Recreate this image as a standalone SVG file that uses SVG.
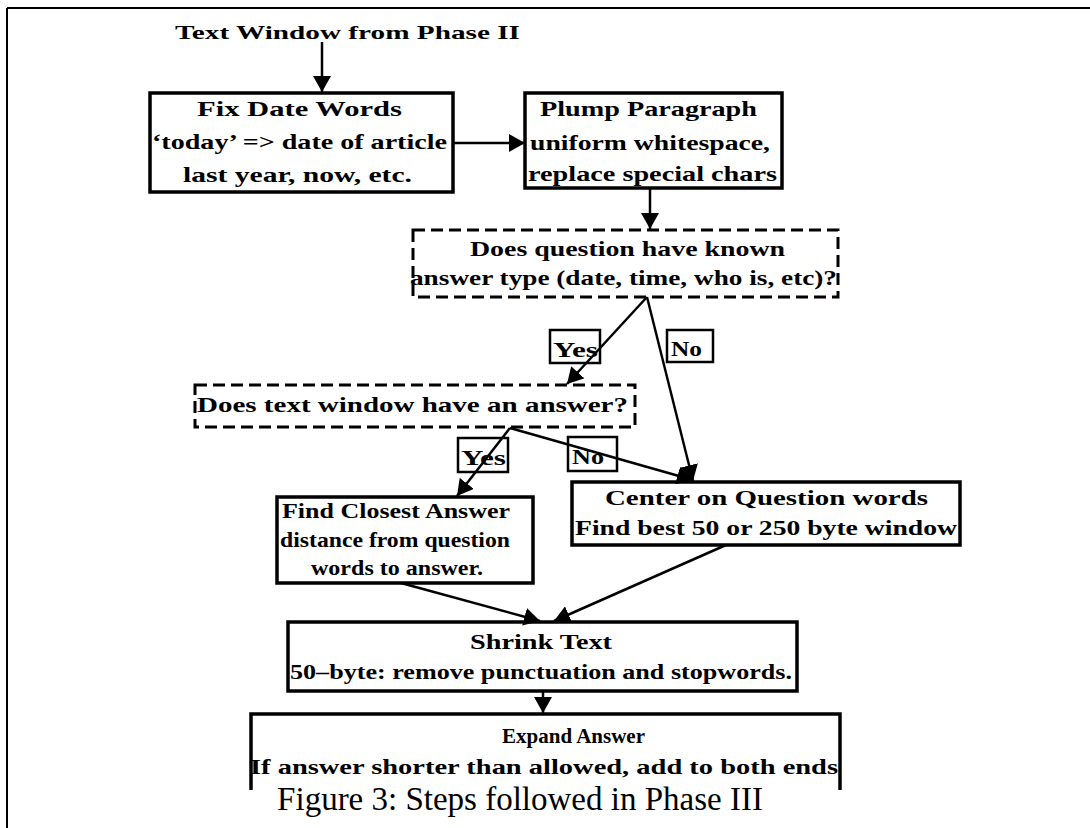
<svg xmlns="http://www.w3.org/2000/svg" width="1090" height="828" viewBox="0 0 1090 828">
<style>
.t{font-family:"Liberation Serif","Times New Roman",serif;font-weight:bold;font-size:22px;fill:#000}
.tt{font-family:"Liberation Serif","Times New Roman",serif;font-weight:bold;font-size:19px;fill:#000}
.box{fill:#fff;stroke:#000;stroke-width:3.5}
.dbox{fill:#fff;stroke:#000;stroke-width:3;stroke-dasharray:12 6}
.lbl{fill:#fff;stroke:#000;stroke-width:2.5}
.c{stroke:#000;stroke-width:2.5;fill:none}
.cap{font-family:"Liberation Serif","Times New Roman",serif;font-size:33px;fill:#000}
</style>
<defs>
<marker id="ah" markerUnits="userSpaceOnUse" markerWidth="18" markerHeight="18" refX="16" refY="9" orient="auto">
<path d="M0,0 L16,9 L0,18 Z" fill="#000"/>
</marker>
</defs>
<rect width="1090" height="828" fill="#fff"/>
<g id="frame">
<line x1="7" y1="8" x2="1090" y2="8" stroke="#000" stroke-width="2"/>
<line x1="7" y1="8" x2="7" y2="828" stroke="#000" stroke-width="2"/>
</g>
<g id="title"><text class="tt" x="175" y="39" textLength="345" lengthAdjust="spacingAndGlyphs">Text Window from Phase II</text></g>
<g id="fix">
<rect class="box" x="150" y="93" width="303" height="99"/>
<text class="t" x="197" y="116" textLength="205" lengthAdjust="spacingAndGlyphs">Fix Date Words</text>
<text class="t" x="152" y="149" textLength="295" lengthAdjust="spacingAndGlyphs">‘today’ =&gt; date of article</text>
<text class="t" x="183" y="182" textLength="229" lengthAdjust="spacingAndGlyphs">last year, now, etc.</text>
</g>
<g id="plump">
<rect class="box" x="525" y="93" width="257" height="95"/>
<text class="t" x="540" y="116" textLength="217" lengthAdjust="spacingAndGlyphs">Plump Paragraph</text>
<text class="t" x="530" y="150" textLength="240" lengthAdjust="spacingAndGlyphs">uniform whitespace,</text>
<text class="t" x="528" y="181" textLength="249" lengthAdjust="spacingAndGlyphs">replace special chars</text>
</g>
<g id="known">
<rect class="dbox" x="413" y="230" width="425" height="67"/>
<text class="t" x="470" y="256" textLength="315" lengthAdjust="spacingAndGlyphs">Does question have  known</text>
<text class="t" x="410" y="285" textLength="427" lengthAdjust="spacingAndGlyphs">answer type (date, time, who is, etc)?</text>
</g>
<g id="hasanswer">
<rect class="dbox" x="195" y="385" width="440" height="42"/>
<text class="t" x="197" y="412" textLength="431" lengthAdjust="spacingAndGlyphs">Does text window have an answer?</text>
</g>
<g id="closest">
<rect class="box" x="277" y="497" width="256" height="86"/>
<text class="t" x="282" y="518" textLength="228" lengthAdjust="spacingAndGlyphs">Find Closest Answer</text>
<text class="t" x="280" y="547" textLength="230" lengthAdjust="spacingAndGlyphs">distance from question</text>
<text class="t" x="311" y="575" textLength="172" lengthAdjust="spacingAndGlyphs">words to answer.</text>
</g>
<g id="center">
<rect class="box" x="572" y="482" width="388" height="63"/>
<text class="t" x="605" y="505" textLength="323" lengthAdjust="spacingAndGlyphs">Center on Question words</text>
<text class="t" x="575" y="535" textLength="382" lengthAdjust="spacingAndGlyphs">Find best 50 or 250 byte window</text>
</g>
<g id="shrink">
<rect class="box" x="288" y="622" width="509" height="69"/>
<text class="t" x="470" y="649" textLength="142" lengthAdjust="spacingAndGlyphs">Shrink Text</text>
<text class="t" x="290" y="679" textLength="502" lengthAdjust="spacingAndGlyphs">50–byte: remove punctuation and stopwords.</text>
</g>
<g id="expand">
<path d="M251,790 V714 H840 V790" fill="none" stroke="#000" stroke-width="3.5"/>
<text class="t" x="502" y="743" textLength="143" lengthAdjust="spacingAndGlyphs">Expand Answer</text>
<text class="t" x="250" y="774" textLength="588" lengthAdjust="spacingAndGlyphs">If answer shorter than allowed, add to both ends</text>
</g>
<g id="labels">
<rect class="lbl" x="550" y="330" width="50" height="33"/>
<text class="t" x="553" y="357" textLength="45" lengthAdjust="spacingAndGlyphs">Yes</text>
<rect class="lbl" x="667" y="330" width="46" height="32"/>
<text class="t" x="671" y="356" textLength="31" lengthAdjust="spacingAndGlyphs">No</text>
<rect class="lbl" x="458" y="438" width="50" height="34"/>
<text class="t" x="461" y="465" textLength="45" lengthAdjust="spacingAndGlyphs">Yes</text>
<rect class="lbl" x="568" y="437" width="49" height="34"/>
<text class="t" x="572" y="464" textLength="32" lengthAdjust="spacingAndGlyphs">No</text>
</g>
<g id="connectors">
<line class="c" x1="322" y1="42" x2="322" y2="92" marker-end="url(#ah)"/>
<line class="c" x1="453" y1="143" x2="525" y2="143" marker-end="url(#ah)"/>
<line class="c" x1="650" y1="188" x2="650" y2="229" marker-end="url(#ah)"/>
<line class="c" x1="647" y1="297" x2="567" y2="384" marker-end="url(#ah)"/>
<line class="c" x1="647" y1="297" x2="693" y2="481" marker-end="url(#ah)"/>
<line class="c" x1="510" y1="428" x2="457" y2="496" marker-end="url(#ah)"/>
<line class="c" x1="510" y1="428" x2="693" y2="480" marker-end="url(#ah)"/>
<line class="c" x1="401" y1="583" x2="540" y2="621" marker-end="url(#ah)"/>
<line class="c" x1="726" y1="545" x2="554" y2="621" marker-end="url(#ah)"/>
<line class="c" x1="543" y1="691" x2="543" y2="713" marker-end="url(#ah)"/>
</g>
<g id="caption"><text class="cap" x="520" y="810" text-anchor="middle">Figure 3: Steps followed in Phase III</text></g>
</svg>
